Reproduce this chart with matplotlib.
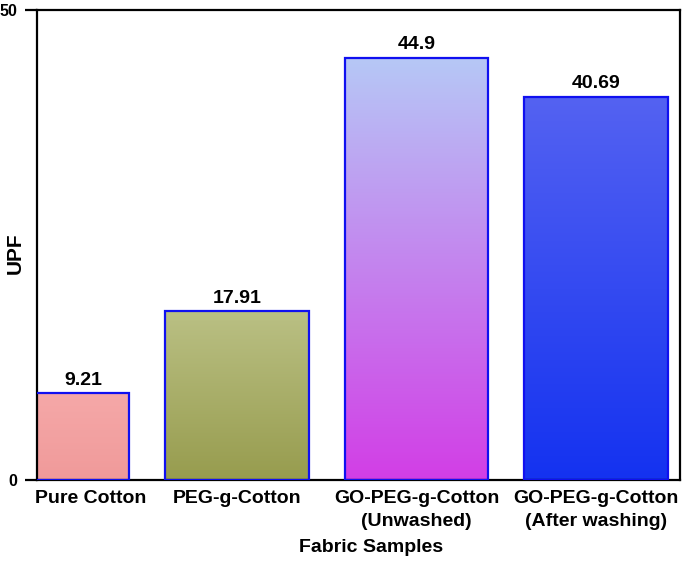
import numpy as np
import matplotlib.pyplot as plt
from matplotlib.colors import LinearSegmentedColormap
import matplotlib.transforms as mtransforms

plt.rcParams['font.family'] = ['Liberation Sans', 'DejaVu Sans']
plt.rcParams['font.weight'] = 'bold'

samples = ['Pure Cotton', 'PEG-g-Cotton', 'GO-PEG-g-Cotton\n(Unwashed)',
           'GO-PEG-g-Cotton\n(After washing)']
upf = [9.21, 17.91, 44.9, 40.69]
value_labels = ['9.21', '17.91', '44.9', '40.69']
# (top colour, bottom colour) of each bar's gradient
grad_colors = [('#F5A8A8', '#F09A9A'),
               ('#BAC084', '#979C4E'),
               ('#B6C8F6', '#D23EE6'),
               ('#5462F2', '#1432F0')]

fig = plt.figure(figsize=(6.85, 5.62), dpi=100)
ax = fig.add_axes([0.054, 0.146, 0.939, 0.837])

x = np.arange(len(samples))
width = 0.80
xlim = (-0.114, 3.468)
bars = ax.bar(x, upf, width=width, color='none', edgecolor='#1010F0',
              linewidth=1.6, zorder=3)

grad = np.linspace(0, 1, 256).reshape(-1, 1)
for bar, (top, bottom), lab in zip(bars, grad_colors, value_labels):
    cmap = LinearSegmentedColormap.from_list('g', [bottom, top])
    x0 = max(bar.get_x(), xlim[0])
    x1 = bar.get_x() + bar.get_width()
    h = bar.get_height()
    ax.imshow(grad, cmap=cmap, aspect='auto', origin='lower',
              extent=[x0, x1, 0, h], zorder=2)
    # label sits over the visible part of the bar
    ax.text((x0 + x1) / 2, h + 0.5, lab, ha='center', va='bottom',
            fontsize=14, fontweight='bold')

ax.set_xlim(*xlim)
ax.set_ylim(0, 50)
ax.set_yticks([0, 50])
ax.set_yticklabels(['0', '50'], fontsize=11.5, fontweight='bold')
ax.set_xticks(x)
ax.set_xticklabels(samples, fontsize=14, fontweight='bold', linespacing=1.5)
ax.tick_params(axis='x', length=0, pad=7)
ax.tick_params(axis='y', direction='out', length=9, width=1.6, pad=5)

first = ax.get_xticklabels()[0]
first.set_horizontalalignment('left')
first.set_transform(first.get_transform() +
                    mtransforms.ScaledTranslation(-22 / 100, 0, fig.dpi_scale_trans))

for s in ax.spines.values():
    s.set_linewidth(1.6)

ax.set_ylabel('UPF', fontsize=15, fontweight='bold')
ax.yaxis.set_label_coords(-0.0187, 0.483)
ax.set_xlabel('Fabric Samples', fontsize=14, fontweight='bold', va='center')
ax.xaxis.set_label_coords(0.519, -0.144)

fig.savefig('out.png', dpi=100)
